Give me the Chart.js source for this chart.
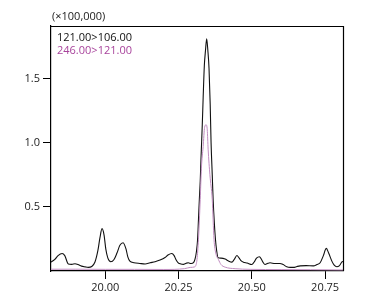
<!DOCTYPE html>
<html>
<head>
<meta charset="utf-8">
<script src="https://cdn.jsdelivr.net/npm/chart.js@4"></script>
<style>
html,body{margin:0;padding:0;background:#fff;}
#wrap{width:376px;height:307px;position:relative;}
</style>
</head>
<body>
<div id="wrap"><canvas id="c" width="376" height="307"></canvas></div>
<script>
// Retention time (min) and intensity (x100,000)
const series1Label = "121.00>106.00";
const series2Label = "246.00>121.00";
const unitLabel = "(\u00d7100,000)";

const blackRT = [19.815,19.828,19.839,19.853,19.862,19.874,19.886,19.897,19.907,19.919,19.931,19.942,19.954,19.965,19.975,19.982,19.989,19.996,20.002,20.009,20.019,20.030,20.040,20.050,20.061,20.071,20.077,20.084,20.098,20.118,20.136,20.153,20.170,20.187,20.204,20.214,20.227,20.235,20.241,20.249,20.258,20.266,20.276,20.283,20.293,20.301,20.306,20.311,20.315,20.318,20.321,20.324,20.327,20.331,20.334,20.338,20.342,20.346,20.350,20.354,20.358,20.361,20.365,20.368,20.372,20.376,20.380,20.385,20.395,20.409,20.419,20.432,20.440,20.449,20.457,20.463,20.471,20.484,20.500,20.508,20.516,20.526,20.533,20.539,20.545,20.555,20.562,20.579,20.596,20.607,20.619,20.631,20.642,20.654,20.665,20.685,20.710,20.722,20.733,20.744,20.754,20.762,20.773,20.781,20.790,20.798,20.807,20.811];
const blackIntensity = [0.069,0.090,0.120,0.137,0.120,0.055,0.052,0.057,0.050,0.038,0.032,0.028,0.035,0.070,0.160,0.260,0.330,0.280,0.170,0.100,0.072,0.090,0.140,0.200,0.220,0.170,0.110,0.077,0.065,0.059,0.055,0.064,0.072,0.085,0.105,0.125,0.137,0.120,0.090,0.064,0.055,0.052,0.060,0.064,0.058,0.065,0.090,0.150,0.246,0.400,0.557,0.700,0.900,1.140,1.350,1.600,1.720,1.810,1.720,1.580,1.300,1.000,0.750,0.557,0.380,0.246,0.160,0.103,0.100,0.093,0.080,0.069,0.090,0.121,0.100,0.080,0.069,0.062,0.051,0.070,0.100,0.111,0.090,0.065,0.051,0.060,0.064,0.058,0.059,0.050,0.033,0.028,0.028,0.035,0.040,0.042,0.040,0.050,0.064,0.120,0.176,0.140,0.077,0.045,0.033,0.040,0.069,0.075];

const pinkRT = [19.815,19.900,20.000,20.100,20.200,20.270,20.290,20.305,20.310,20.313,20.318,20.324,20.328,20.334,20.339,20.344,20.348,20.351,20.357,20.365,20.371,20.377,20.386,20.395,20.409,20.443,20.494,20.600,20.700,20.811];
const pinkIntensity = [0.014,0.014,0.013,0.013,0.012,0.018,0.028,0.032,0.050,0.090,0.246,0.557,0.800,0.970,1.120,1.140,1.100,0.950,0.750,0.557,0.246,0.140,0.090,0.050,0.030,0.018,0.013,0.011,0.010,0.008];

const xTicks = [20.00, 20.25, 20.50, 20.75];
const yTicks = [0.5, 1.0, 1.5];
const xRange = [19.815, 20.811];
const yRange = [0, 1.91];

const toPts = (xs, ys) => xs.map((x, i) => ({x: x, y: ys[i]}));

const FONT = "'Open Sans', 'DejaVu Sans', sans-serif";
const TXT = '#222';

const frame = {
  id: 'frame',
  afterDraw(chart) {
    const {ctx, chartArea: a} = chart;
    ctx.save();
    ctx.strokeStyle = '#000';
    ctx.lineWidth = 1.2;
    ctx.beginPath();
    ctx.moveTo(a.left, a.top + 0.5);
    ctx.lineTo(a.right + 0.5, a.top + 0.5);
    ctx.lineTo(a.right + 0.5, a.bottom);
    ctx.stroke();
    ctx.font = "11px " + FONT;
    ctx.textBaseline = 'middle';
    ctx.textAlign = 'left';
    ctx.fillStyle = TXT;
    ctx.fillText(unitLabel, a.left + 1, a.top - 9);
    ctx.fillStyle = '#111';
    ctx.fillText(series1Label, a.left + 6, a.top + 12);
    ctx.fillStyle = '#a8449c';
    ctx.fillText(series2Label, a.left + 6, a.top + 25);
    ctx.restore();
  }
};

new Chart(document.getElementById('c'), {
  type: 'scatter',
  data: {
    datasets: [
      {label: series2Label, data: toPts(pinkRT, pinkIntensity), showLine: true, borderColor: '#c08cc0', borderWidth: 1, pointRadius: 0, tension: 0.4, cubicInterpolationMode: 'monotone', fill: false},
      {label: series1Label, data: toPts(blackRT, blackIntensity), showLine: true, borderColor: '#111', borderWidth: 1.1, pointRadius: 0, tension: 0.4, cubicInterpolationMode: 'monotone', fill: false}
    ]
  },
  options: {
    responsive: false,
    animation: false,
    layout: {padding: {left: 0, top: 26, right: 33, bottom: 0}},
    plugins: {legend: {display: false}, tooltip: {enabled: false}},
    scales: {
      x: {
        type: 'linear', min: xRange[0], max: xRange[1],
        afterBuildTicks: s => { s.ticks = xTicks.map(v => ({value: v})); },
        afterFit: s => { s.height = 36; },
        grid: {drawOnChartArea: false, tickLength: 8, color: '#000', lineWidth: 1},
        border: {color: '#000', width: 1.2},
        ticks: {padding: 2, color: TXT, font: {size: 11, family: FONT}, maxRotation: 0, callback: v => v.toFixed(2)}
      },
      y: {
        type: 'linear', min: yRange[0], max: yRange[1],
        afterBuildTicks: s => { s.ticks = yTicks.map(v => ({value: v})); },
        afterFit: s => { s.width = 51; },
        grid: {drawOnChartArea: false, tickLength: 8, color: '#000', lineWidth: 1},
        border: {color: '#000', width: 1.2},
        ticks: {padding: 3, color: TXT, font: {size: 11, family: FONT}, callback: v => v.toFixed(1)}
      }
    }
  },
  plugins: [frame]
});
</script>
</body>
</html>
